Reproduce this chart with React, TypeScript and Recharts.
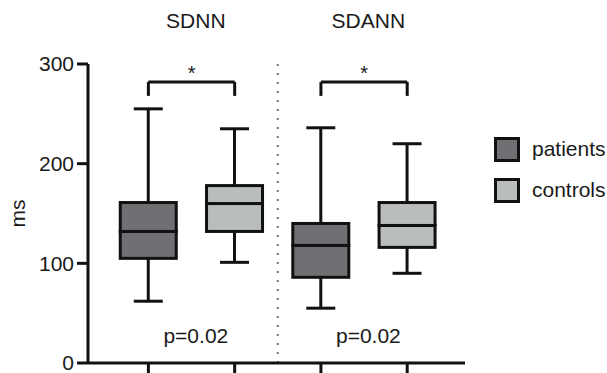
import {
  Bar,
  ComposedChart,
  ReferenceDot,
  ReferenceLine,
  XAxis,
  YAxis,
} from 'recharts';

const FONT = '"Liberation Sans", Arial, Helvetica, sans-serif';

const metrics = ['SDNN', 'SDANN'];
const groups = ['patients', 'controls'];
const groupColors = ['#6f7073', '#babdbe'];

// one box per metric x group, in drawing order
const boxPos = [1, 2, 3, 4];
const boxGroup = [0, 1, 0, 1];
const mins = [62, 101, 55, 90];
const q1s = [105, 132, 86, 116];
const medians = [132, 160, 118, 138];
const q3s = [161, 178, 140, 161];
const maxs = [255, 235, 236, 220];

const pLabels = ['p=0.02', 'p=0.02'];
const stars = ['*', '*'];
const bracketY = 282;
const bracketLegY = 268;
const yTicks = [0, 100, 200, 300];

const data = boxPos.map((pos, i) => ({
  pos,
  group: boxGroup[i],
  base: mins[i],
  lowWhisker: q1s[i] - mins[i],
  lowBox: medians[i] - q1s[i],
  highBox: q3s[i] - medians[i],
  highWhisker: maxs[i] - q3s[i],
}));

const INK = '#111';
const SW = 3;
const CAP = 29;

function BoxShape(props: any) {
  const { x, y, width, height, payload } = props;
  return (
    <rect
      x={x}
      y={y}
      width={width}
      height={height}
      fill={groupColors[payload.group]}
      stroke={INK}
      strokeWidth={SW}
    />
  );
}

function TopWhisker(props: any) {
  const { x, y, width, height } = props;
  const cx = x + width / 2;
  return (
    <g stroke={INK} strokeWidth={SW}>
      <line x1={cx} x2={cx} y1={y} y2={y + height} />
      <line x1={cx - CAP / 2} x2={cx + CAP / 2} y1={y} y2={y} />
    </g>
  );
}

function BottomWhisker(props: any) {
  const { x, y, width, height } = props;
  const cx = x + width / 2;
  return (
    <g stroke={INK} strokeWidth={SW}>
      <line x1={cx} x2={cx} y1={y} y2={y + height} />
      <line x1={cx - CAP / 2} x2={cx + CAP / 2} y1={y + height} y2={y + height} />
    </g>
  );
}

const NoTick = () => <g />;

const textStyle = { fontFamily: FONT, fontSize: 21, fill: '#1a1a1a' };

export default function App() {
  return (
    <div style={{ position: 'absolute', left: 0, top: 0, width: 607, height: 373, background: '#fff' }}>
      <ComposedChart
        width={607}
        height={373}
        data={data}
        margin={{ top: 64, right: 142, bottom: 0, left: 0 }}
      >
        <XAxis
          dataKey="pos"
          type="number"
          domain={[0.3, 4.67]}
          ticks={boxPos}
          interval={0}
          tick={NoTick}
          height={10}
          tickSize={14}
          axisLine={{ stroke: INK, strokeWidth: SW }}
          tickLine={{ stroke: INK, strokeWidth: SW }}
        />
        <YAxis
          type="number"
          domain={[0, 300]}
          ticks={yTicks}
          interval={0}
          width={88}
          tickSize={11}
          tickMargin={3}
          axisLine={{ stroke: INK, strokeWidth: SW }}
          tickLine={{ stroke: INK, strokeWidth: SW }}
          tick={{ ...textStyle }}
          label={{ value: 'ms', angle: -90, position: 'center', dx: -26, style: textStyle }}
        />
        <ReferenceLine
          x={2.5}
          stroke="#777"
          strokeWidth={2}
          strokeDasharray="2 7"
        />
        <Bar dataKey="base" stackId="b" fill="none" barSize={56} isAnimationActive={false} />
        <Bar dataKey="lowWhisker" stackId="b" barSize={56} shape={BottomWhisker} isAnimationActive={false} />
        <Bar dataKey="lowBox" stackId="b" barSize={56} shape={BoxShape} isAnimationActive={false} />
        <Bar dataKey="highBox" stackId="b" barSize={56} shape={BoxShape} isAnimationActive={false} />
        <Bar dataKey="highWhisker" stackId="b" barSize={56} shape={TopWhisker} isAnimationActive={false} />
        {metrics.map((m, i) => {
          const left = boxPos[i * 2];
          const right = boxPos[i * 2 + 1];
          const mid = (left + right) / 2;
          return [
            <ReferenceLine
              key={`bt${i}`}
              segment={[{ x: left, y: bracketY }, { x: right, y: bracketY }]}
              stroke={INK}
              strokeWidth={SW}
              label={{ value: stars[i], position: 'top', offset: 2, style: { ...textStyle, fontSize: 20 } }}
            />,
            <ReferenceLine
              key={`bl${i}`}
              segment={[{ x: left, y: bracketY }, { x: left, y: bracketLegY }]}
              stroke={INK}
              strokeWidth={SW}
            />,
            <ReferenceLine
              key={`br${i}`}
              segment={[{ x: right, y: bracketY }, { x: right, y: bracketLegY }]}
              stroke={INK}
              strokeWidth={SW}
            />,
            <ReferenceDot
              key={`t${i}`}
              x={mid + 0.05}
              y={344}
              r={0}
              fill="none"
              stroke="none"
              ifOverflow="visible"
              label={{ value: m, position: 'center', style: textStyle }}
            />,
            <ReferenceDot
              key={`p${i}`}
              x={mid + 0.05}
              y={28}
              r={0}
              fill="none"
              stroke="none"
              label={{ value: pLabels[i], position: 'center', style: textStyle }}
            />,
          ];
        })}
      </ComposedChart>
      <div style={{ position: 'absolute', left: 494, top: 138, fontFamily: FONT, fontSize: 21, color: '#1a1a1a' }}>
        {groups.map((g, i) => (
          <div key={g} style={{ display: 'flex', alignItems: 'center', height: 22, marginBottom: 19 }}>
            <div
              style={{
                width: 20,
                height: 19,
                background: groupColors[i],
                border: `3px solid ${INK}`,
                marginRight: 12,
              }}
            />
            <span style={{ lineHeight: '22px' }}>{g}</span>
          </div>
        ))}
      </div>
    </div>
  );
}
